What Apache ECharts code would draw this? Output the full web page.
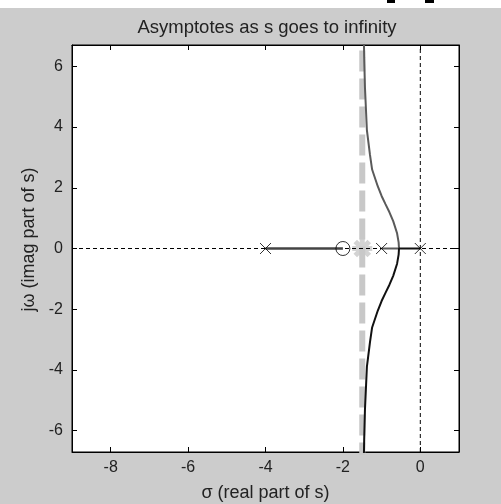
<!DOCTYPE html>
<html><head><meta charset="utf-8">
<script src="https://cdn.jsdelivr.net/npm/echarts@6/dist/echarts.min.js"></script>
<style>html,body{margin:0;padding:0;background:#cccccc}#c{width:501px;height:504px}</style>
</head><body><div id="c"></div><script>
const titleText = 'Asymptotes as s goes to infinity';
const xLabel = 'σ (real part of s)';
const yLabel = 'jω (imag part of s)';
const xTicks = [-8, -6, -4, -2, 0];
const yTicks = [-6, -4, -2, 0, 2, 4, 6];
const xRange = [-9, 1];
const yRange = [-6.7, 6.7];
const poles = [[0, 0], [-1, 0], [-4, 0]];
const zeros = [[-2, 0]];
const asymptoteCenter = [[-1.5, 0]];
const asymptoteLine = [[-1.5, -8], [-1.5, 8]];
const branchUpper = [[-1, 0], [-0.55, 0], [-0.56, 0.2], [-0.6, 0.5], [-0.7, 0.9], [-0.8, 1.2], [-0.9, 1.46], [-1.0, 1.73], [-1.1, 2.05], [-1.245, 2.6], [-1.3, 3.08], [-1.38, 3.9], [-1.43, 5.3], [-1.45, 6.3], [-1.46, 7.05]];
const branchLower = [[0, 0], [-0.55, 0], [-0.56, -0.2], [-0.6, -0.5], [-0.7, -0.9], [-0.8, -1.2], [-0.9, -1.46], [-1.0, -1.73], [-1.1, -2.05], [-1.245, -2.6], [-1.3, -3.08], [-1.38, -3.9], [-1.43, -5.3], [-1.45, -6.3], [-1.46, -7.05]];
const branchReal = [[-4, 0], [-2, 0]];
const zeroLineH = [[-9, 0], [1, 0]];
const zeroLineV = [[0, -6.7], [0, 6.7]];

const font = 'Liberation Sans, Arial, sans-serif';
const chart = echarts.init(document.getElementById('c'), null, {renderer: 'canvas'});
const baseX = {
  type: 'value', min: xRange[0], max: xRange[1],
  splitLine: {show: false},
  axisLine: {show: true, onZero: false, lineStyle: {color: '#000', width: 1}},
  axisTick: {show: true, inside: true, length: 5, customValues: xTicks, lineStyle: {color: '#000'}},
};
const baseY = {
  type: 'value', min: yRange[0], max: yRange[1],
  splitLine: {show: false},
  axisLine: {show: true, onZero: false, lineStyle: {color: '#000', width: 1}},
  axisTick: {show: true, inside: true, length: 5, customValues: yTicks, lineStyle: {color: '#000'}},
};
const xMarker = 'path://M0,0 L10,10 M0,10 L10,0';
const starMarker = 'path://M0,-10 L0,10 M-10,0 L10,0 M-7,-7 L7,7 M-7,7 L7,-7';
chart.setOption({
  backgroundColor: '#cccccc',
  animation: false,
  title: {text: titleText, left: 262, top: 13, textAlign: 'center',
    textStyle: {fontFamily: font, fontSize: 18.5, fontWeight: 'normal', color: '#222'}},
  grid: {left: 72, top: 45, right: 42, bottom: 52, show: true, backgroundColor: '#fff', borderColor: '#000', borderWidth: 1,
    outerBoundsMode: 'none', containLabel: false},
  xAxis: [
    Object.assign({}, baseX, {position: 'bottom',
      axisLabel: {show: true, customValues: xTicks, margin: 8, fontFamily: font, fontSize: 16, color: '#222'},
      name: xLabel, nameLocation: 'middle', nameGap: 32,
      nameTextStyle: {fontFamily: font, fontSize: 18, color: '#222'}}),
    Object.assign({}, baseX, {position: 'top', axisLabel: {show: false}})
  ],
  yAxis: [
    Object.assign({}, baseY, {position: 'left',
      axisLabel: {show: true, customValues: yTicks, margin: 9, fontFamily: font, fontSize: 16, color: '#222'},
      name: yLabel, nameLocation: 'middle', nameGap: 30, nameRotate: 90,
      nameTextStyle: {fontFamily: font, fontSize: 18, color: '#222', padding: [0, 0, 0, 18]}}),
    Object.assign({}, baseY, {position: 'right', axisLabel: {show: false}})
  ],
  graphic: [
    {type: 'rect', shape: {x: 0, y: 0, width: 501, height: 8}, style: {fill: '#fff'}},
    {type: 'rect', shape: {x: 387, y: 0, width: 8, height: 3}, style: {fill: '#000'}},
    {type: 'rect', shape: {x: 425, y: 0, width: 9, height: 3}, style: {fill: '#000'}}
  ],
  series: [
    {type: 'line', data: asymptoteLine, symbol: 'none', z: 1,
      lineStyle: {color: '#c8c8c8', width: 6, type: [21, 7]}},
    {type: 'scatter', data: asymptoteCenter, symbol: starMarker, symbolSize: 20, z: 1,
      itemStyle: {color: 'rgba(0,0,0,0)', borderColor: '#c8c8c8', borderWidth: 5}},
    {type: 'line', data: zeroLineH, symbol: 'none', z: 2,
      lineStyle: {color: '#000', width: 1, type: [4, 3]}},
    {type: 'line', data: zeroLineV, symbol: 'none', z: 2,
      lineStyle: {color: '#000', width: 1, type: [4, 3]}},
    {type: 'line', data: branchReal, symbol: 'none', z: 3,
      lineStyle: {color: '#444', width: 2.5}},
    {type: 'line', data: branchUpper, symbol: 'none', z: 3,
      lineStyle: {color: '#5a5a5a', width: 2}},
    {type: 'line', data: branchLower, symbol: 'none', z: 3,
      lineStyle: {color: '#111', width: 2}},
    {type: 'scatter', data: poles, symbol: xMarker, symbolSize: 11, z: 4,
      itemStyle: {color: 'rgba(0,0,0,0)', borderColor: '#000', borderWidth: 1}},
    {type: 'scatter', data: zeros, symbol: 'circle', symbolSize: 14, z: 4,
      itemStyle: {color: 'rgba(0,0,0,0)', borderColor: '#000', borderWidth: 1}}
  ]
});
</script></body></html>
